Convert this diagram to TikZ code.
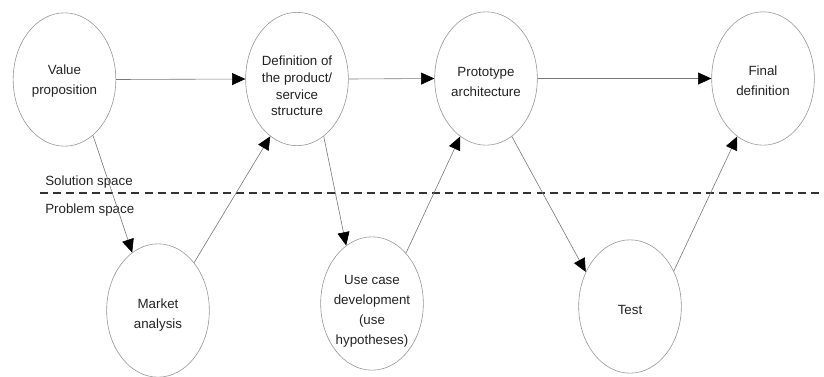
\documentclass[tikz,border=0pt]{standalone}
\usepackage{fontspec}
\setmainfont{Liberation Sans}
\usetikzlibrary{shapes.geometric,arrows.meta}
\definecolor{edgegray}{RGB}{120,120,120}
\definecolor{ringgray}{RGB}{150,150,150}
\definecolor{txtgray}{RGB}{35,35,35}
\tikzset{
  bubble/.style={ellipse,draw=ringgray,line width=0.45pt,minimum width=77pt,minimum height=100pt,inner sep=0pt},
  bubtext/.style={align=center,text=txtgray,font=\fontsize{10}{15}\selectfont,inner sep=0pt},
  flow/.style={draw=edgegray,line width=0.45pt,-{Triangle[length=10pt,width=9pt,color=black]}},
  divider/.style={draw=black!80,line width=0.9pt,dash pattern=on 6pt off 3.8pt},
  spacelabel/.style={anchor=west,text=txtgray,font=\fontsize{10}{12}\selectfont,inner sep=0pt}
}
\begin{document}
\begin{tikzpicture}[x=0.75pt,y=-0.75pt]
\useasboundingbox (0,0) rectangle (824,376);
% ellipses
\node[bubble] (vp) at (64.5,79.5) {};
\node[bubble] (def) at (297,79) {};
\node[bubble] (proto) at (486,78.5) {};
\node[bubble] (final) at (763,78.5) {};
\node[bubble] (market) at (158,310.5) {};
\node[bubble] (usecase) at (372,303.5) {};
\node[bubble] (test) at (630,306.5) {};
% texts
\node[bubtext] (vp-t) at (64.5,81) {Value\\proposition};
\node[bubtext,font=\fontsize{10}{12.5}\selectfont] (def-t) at (297,86) {Definition of\\the product/\\service\\structure};
\node[bubtext] (proto-t) at (486,81.5) {Prototype\\architecture};
\node[bubtext] (final-t) at (763,80.5) {Final\\definition};
\node[bubtext] (market-t) at (158,315.5) {Market\\analysis};
\node[bubtext] (usecase-t) at (372,311) {Use case\\development\\(use\\hypotheses)};
\node[bubtext] (test-t) at (630,309.5) {Test};
% divider
\coordinate (dl) at (40,193);
\coordinate (dr) at (824,193);
\draw[divider] (dl) -- (dr);
\node[spacelabel] (sol) at (45,182) {Solution space};
\node[spacelabel] (prob) at (45,210) {Problem space};
% connectors
\draw[flow] (vp.east) -- (def.west);
\draw[flow] (def.east) -- (proto.west);
\draw[flow] (proto.east) -- (final.west);
\draw[flow] (vp.297) -- (market.114);
\draw[flow] (market.53) -- (def.245);
\draw[flow] (def.295) -- (usecase.114);
\draw[flow] (usecase.56) -- (proto.246);
\draw[flow] (proto.294) -- (test.142);
\draw[flow] (test.39) -- (final.246);
\end{tikzpicture}
\end{document}
